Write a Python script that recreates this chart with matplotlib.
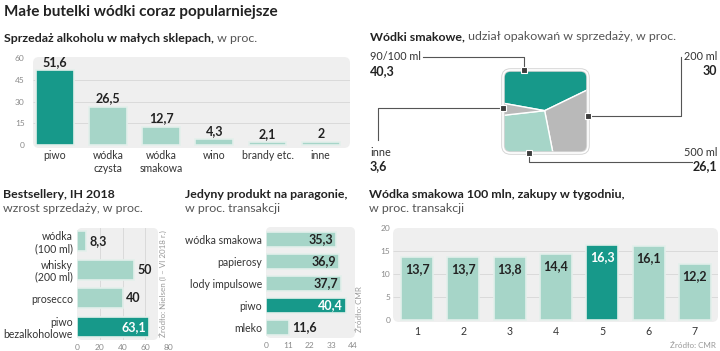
import matplotlib
matplotlib.use("Agg")
import matplotlib.pyplot as plt
import numpy as np
from matplotlib.patches import FancyBboxPatch, Polygon

W, H = 720, 351

# ---- data ----
sales_cats = ["piwo", "wódka\nczysta", "wódka\nsmakowa", "wino", "brandy etc.", "inne"]
sales_vals = [51.6, 26.5, 12.7, 4.3, 2.1, 2]

pack_labels = ["90/100 ml", "200 ml", "500 ml", "inne"]
pack_vals = [40.3, 30, 26.1, 3.6]

best_cats = ["wódka\n(100 ml)", "whisky\n(200 ml)", "prosecco", "piwo\nbezalkoholowe"]
best_vals = [8.3, 50, 40, 63.1]

receipt_cats = ["wódka smakowa", "papierosy", "lody impulsowe", "piwo", "mleko"]
receipt_vals = [35.3, 36.9, 37.7, 40.4, 11.6]

weekdays = ["1", "2", "3", "4", "5", "6", "7"]
weekday_vals = [13.7, 13.7, 13.8, 14.4, 16.3, 16.1, 12.2]

# ---- style ----
TEAL = "#17998a"
LIGHT = "#a6d5c8"
GREY = "#b9b9b9"
BG = "#efefef"
GRID = "#dadada"
TXT = "#222222"
SUB = "#555555"
TICK = "#8a8a8a"
EDGE = "#e3efeb"

plt.rcParams.update({"font.family": ["Lato", "DejaVu Sans"], "text.color": TXT})


def fmt(v):
    return f"{v:g}".replace(".", ",")


fig = plt.figure(figsize=(W / 100, H / 100), dpi=100)


def px_axes(l, t, r, b):
    ax = fig.add_axes([l / W, 1 - b / H, (r - l) / W, (b - t) / H])
    ax.patch.set_visible(False)
    for s in ax.spines.values():
        s.set_visible(False)
    return ax


canvas = fig.add_axes([0, 0, 1, 1])
canvas.set_xlim(0, W)
canvas.set_ylim(H, 0)
canvas.axis("off")


def round_bg(l, t, r, b, rad=6):
    canvas.add_patch(FancyBboxPatch((l, t), r - l, b - t,
                                    boxstyle=f"round,pad=0,rounding_size={rad}",
                                    fc=BG, ec="none", zorder=0))


def heading(x, y, bold, rest=None, size=8.9, newline=False):
    t = canvas.text(x, y, bold, fontsize=size, fontweight="bold", va="center",
                    ha="left", color=TXT)
    if rest:
        if newline:
            canvas.text(x, y + 14.5, rest, fontsize=size, va="center", ha="left",
                        color=SUB)
        else:
            canvas.annotate(" " + rest, xy=(1, 0), xycoords=t, va="bottom",
                            ha="left", fontsize=size, color=SUB)
    return t


# ---- titles ----
canvas.text(4, 12, "Małe butelki wódki coraz popularniejsze", fontsize=11,
            fontweight="bold", va="center", color=TXT)
heading(4, 38, "Sprzedaż alkoholu w małych sklepach,", "w proc.")
heading(370, 37, "Wódki smakowe,", "udział opakowań w sprzedaży, w proc.")
heading(3, 194, "Bestsellery, IH 2018", "wzrost sprzedaży, w proc.", newline=True)
heading(185, 194, "Jedyny produkt na paragonie,", "w proc. transakcji", newline=True)
heading(369, 194, "Wódka smakowa 100 mln, zakupy w tygodniu,", "w proc. transakcji",
        newline=True)

# ---- panel 1: sales in small shops ----
round_bg(33, 57, 350, 148)
ax1 = px_axes(33, 57, 350, 148)
x1 = np.arange(len(sales_cats))
ax1.set_xlim(-0.41, 5.55)
ax1.set_ylim(-2.07, 60.7)
ax1.hlines([15, 30, 45], -0.41, 5.55, color=GRID, lw=0.7, zorder=0)
cols1 = [TEAL] + [LIGHT] * (len(sales_vals) - 1)
ax1.bar(x1, sales_vals, width=0.71, color=cols1, edgecolor=EDGE, lw=1.2, zorder=2)
for xi, v in zip(x1, sales_vals):
    ax1.annotate(fmt(v), (xi, v), xytext=(0, 1.5), textcoords="offset points",
                 ha="center", va="bottom", fontsize=9, fontweight="bold")
ax1.set_yticks([0, 15, 30, 45, 60])
ax1.set_xticks(x1)
ax1.set_xticklabels(sales_cats, fontsize=7.6, linespacing=1.2)
ax1.tick_params(axis="y", length=0, pad=6, labelsize=6, labelcolor=TICK)
ax1.tick_params(axis="x", length=0, pad=1.5, labelcolor="#333333")

# ---- panel 2: packaging shares in a square ----
SQ = (503, 70, 588, 153)
ax2 = px_axes(*SQ)
ax2.set_xlim(0, 1)
ax2.set_ylim(0, 1)
ax2.axis("off")
frame = FancyBboxPatch((0, 0), 1, 1, boxstyle="round,pad=0,rounding_size=0.09",
                       transform=ax2.transAxes, fc="none", ec="#d6d6d6", lw=2.6,
                       zorder=4, clip_on=False)
ax2.add_patch(frame)
inner = FancyBboxPatch((0, 0), 1, 1, boxstyle="round,pad=0,rounding_size=0.09",
                       transform=ax2.transAxes, fc="none", ec="white", lw=1.2,
                       zorder=5, clip_on=False)
ax2.add_patch(inner)

# perimeter walked clockwise from a point on the left edge
centre = np.array([0.49, 0.51])
corners = np.array([[0, 0.6], [0, 1], [1, 1], [1, 0], [0, 0], [0, 0.6]])
pts = []
for a, b in zip(corners[:-1], corners[1:]):
    for t in np.linspace(0, 1, 800, endpoint=False):
        pts.append(a + (b - a) * t)
pts.append(corners[-1])
pts = np.array(pts)
d = pts - centre
tri = 0.5 * np.abs(d[:-1, 0] * d[1:, 1] - d[:-1, 1] * d[1:, 0])
cum = np.concatenate([[0], np.cumsum(tri)]) / tri.sum()
bounds = np.concatenate([[0], np.cumsum(pack_vals) / np.sum(pack_vals)])
pack_cols = [TEAL, GREY, LIGHT, GREY]
for i, c in enumerate(pack_cols):
    i0 = np.searchsorted(cum, bounds[i])
    i1 = min(np.searchsorted(cum, bounds[i + 1]), len(pts) - 1)
    poly = np.vstack([centre, pts[i0:i1 + 1]])
    p = Polygon(poly, closed=True, fc=c, ec="white", lw=1, zorder=2)
    ax2.add_patch(p)
    p.set_clip_path(frame)

markers = [(0.25, 1.0), (1.0, 0.44), (0.31, 0.0), (0.0, 0.54)]
for mx, my in markers:
    ax2.plot(mx, my, marker="s", ms=5, mfc="#3d3d3d", mec="white", mew=0.8,
             clip_on=False, zorder=6)

sw, sh = SQ[2] - SQ[0], SQ[3] - SQ[1]
mpx = [(SQ[0] + mx * sw, SQ[1] + (1 - my) * sh) for mx, my in markers]
leaders = [
    [mpx[0], (mpx[0][0], 57), (423, 57)],
    [mpx[1], (681, mpx[1][1]), (681, 57)],
    [mpx[2], (mpx[2][0], 162), (692, 162)],
    [mpx[3], (378, mpx[3][1]), (378, 140)],
]
for path in leaders:
    xs, ys = zip(*path)
    canvas.plot(xs, ys, color="#555555", lw=0.8, zorder=1)

label_pos = [(370, 57, "left"), (717, 57, "right"), (717, 152, "right"), (370, 152, "left")]
for (lx, ly, ha), name, v in zip(label_pos, pack_labels, pack_vals):
    canvas.text(lx, ly, name, fontsize=7.8, ha=ha, va="center", color="#333333")
    canvas.text(lx, ly + 14, fmt(v), fontsize=9, fontweight="bold", ha=ha, va="center")

# ---- panel 3: bestsellers ----
round_bg(77, 228, 158, 340, rad=5)
ax3 = px_axes(77, 228, 168, 340)
y3 = np.arange(len(best_cats))
ax3.set_xlim(0, 80)
ax3.set_ylim(3.45, -0.45)
for g in [20, 40, 60]:
    ax3.axvline(g, color=GRID, lw=0.7, zorder=0)
cols3 = [LIGHT] * (len(best_vals) - 1) + [TEAL]
ax3.barh(y3, best_vals, height=0.7, color=cols3, edgecolor=EDGE, lw=1.2, zorder=2)
for yi, v, c in zip(y3, best_vals, cols3):
    if c == TEAL:
        ax3.annotate(fmt(v), (v, yi), xytext=(-2, 0), textcoords="offset points",
                     ha="right", va="center", fontsize=9, fontweight="bold", color="white")
    else:
        ax3.annotate(fmt(v), (v, yi), xytext=(2.5, 0), textcoords="offset points",
                     ha="left", va="center", fontsize=9, fontweight="bold")
ax3.set_yticks(y3)
ax3.set_yticklabels(best_cats, fontsize=7.6, linespacing=1.1, ha="right")
ax3.set_xticks([0, 20, 40, 60, 80])
ax3.tick_params(axis="y", length=0, pad=3, labelcolor="#333333")
ax3.tick_params(axis="x", length=0, pad=3, labelsize=6, labelcolor=TICK)
canvas.text(163, 284, "Źródło: Nielsen (I – VI 2018 r.)", rotation=90, fontsize=5.8,
            color="#999999", ha="center", va="center")

# ---- panel 4: only product on the receipt ----
round_bg(266, 227, 355, 338, rad=5)
ax4 = px_axes(266, 227, 355, 338)
y4 = np.arange(len(receipt_cats))
ax4.set_xlim(0, 45)
ax4.set_ylim(4.49, -0.57)
cols4 = [TEAL if c == "piwo" else LIGHT for c in receipt_cats]
ax4.barh(y4, receipt_vals, height=0.69, color=cols4, edgecolor=EDGE, lw=1.2, zorder=2)
for yi, v, c in zip(y4, receipt_vals, cols4):
    if v > 20:
        ax4.annotate(fmt(v), (v, yi), xytext=(-2, 0), textcoords="offset points",
                     ha="right", va="center", fontsize=9, fontweight="bold",
                     color="white" if c == TEAL else TXT)
    else:
        ax4.annotate(fmt(v), (v, yi), xytext=(2.5, 0), textcoords="offset points",
                     ha="left", va="center", fontsize=9, fontweight="bold")
ax4.set_yticks(y4)
ax4.set_yticklabels(receipt_cats, fontsize=7.6)
ax4.set_xticks([0, 11, 22, 33, 44])
ax4.tick_params(axis="y", length=0, pad=3, labelcolor="#333333")
ax4.tick_params(axis="x", length=0, pad=3, labelsize=6, labelcolor=TICK)
canvas.text(359, 309, "Źródło: CMR", rotation=90, fontsize=5.8, color="#999999",
            ha="center", va="center")

# ---- panel 5: weekly purchases ----
round_bg(393, 228, 718, 322)
ax5 = px_axes(393, 228, 718, 322)
x5 = np.arange(1, len(weekdays) + 1)
ax5.set_xlim(0.48, 7.5)
ax5.set_ylim(-0.43, 20)
ax5.hlines([5, 10, 15], 0.48, 7.5, color=GRID, lw=0.7, zorder=0)
cols5 = [TEAL if v == max(weekday_vals) else LIGHT for v in weekday_vals]
ax5.bar(x5, weekday_vals, width=0.69, color=cols5, edgecolor=EDGE, lw=1.2, zorder=2)
for xi, v, c in zip(x5, weekday_vals, cols5):
    ax5.annotate(fmt(v), (xi, v), xytext=(0, -9), textcoords="offset points",
                 ha="center", va="center", fontsize=9, fontweight="bold",
                 color="white" if c == TEAL else TXT)
ax5.set_xticks(x5)
ax5.set_xticklabels(weekdays, fontsize=7.6)
ax5.set_yticks([0, 5, 10, 15, 20])
ax5.tick_params(axis="x", length=0, pad=3, labelcolor="#333333")
ax5.tick_params(axis="y", length=0, pad=2, labelsize=6, labelcolor=TICK)
canvas.text(716, 345, "Źródło: CMR", fontsize=5.8, color="#999999", ha="right",
            va="center")

fig.savefig("out.png", dpi=100)
